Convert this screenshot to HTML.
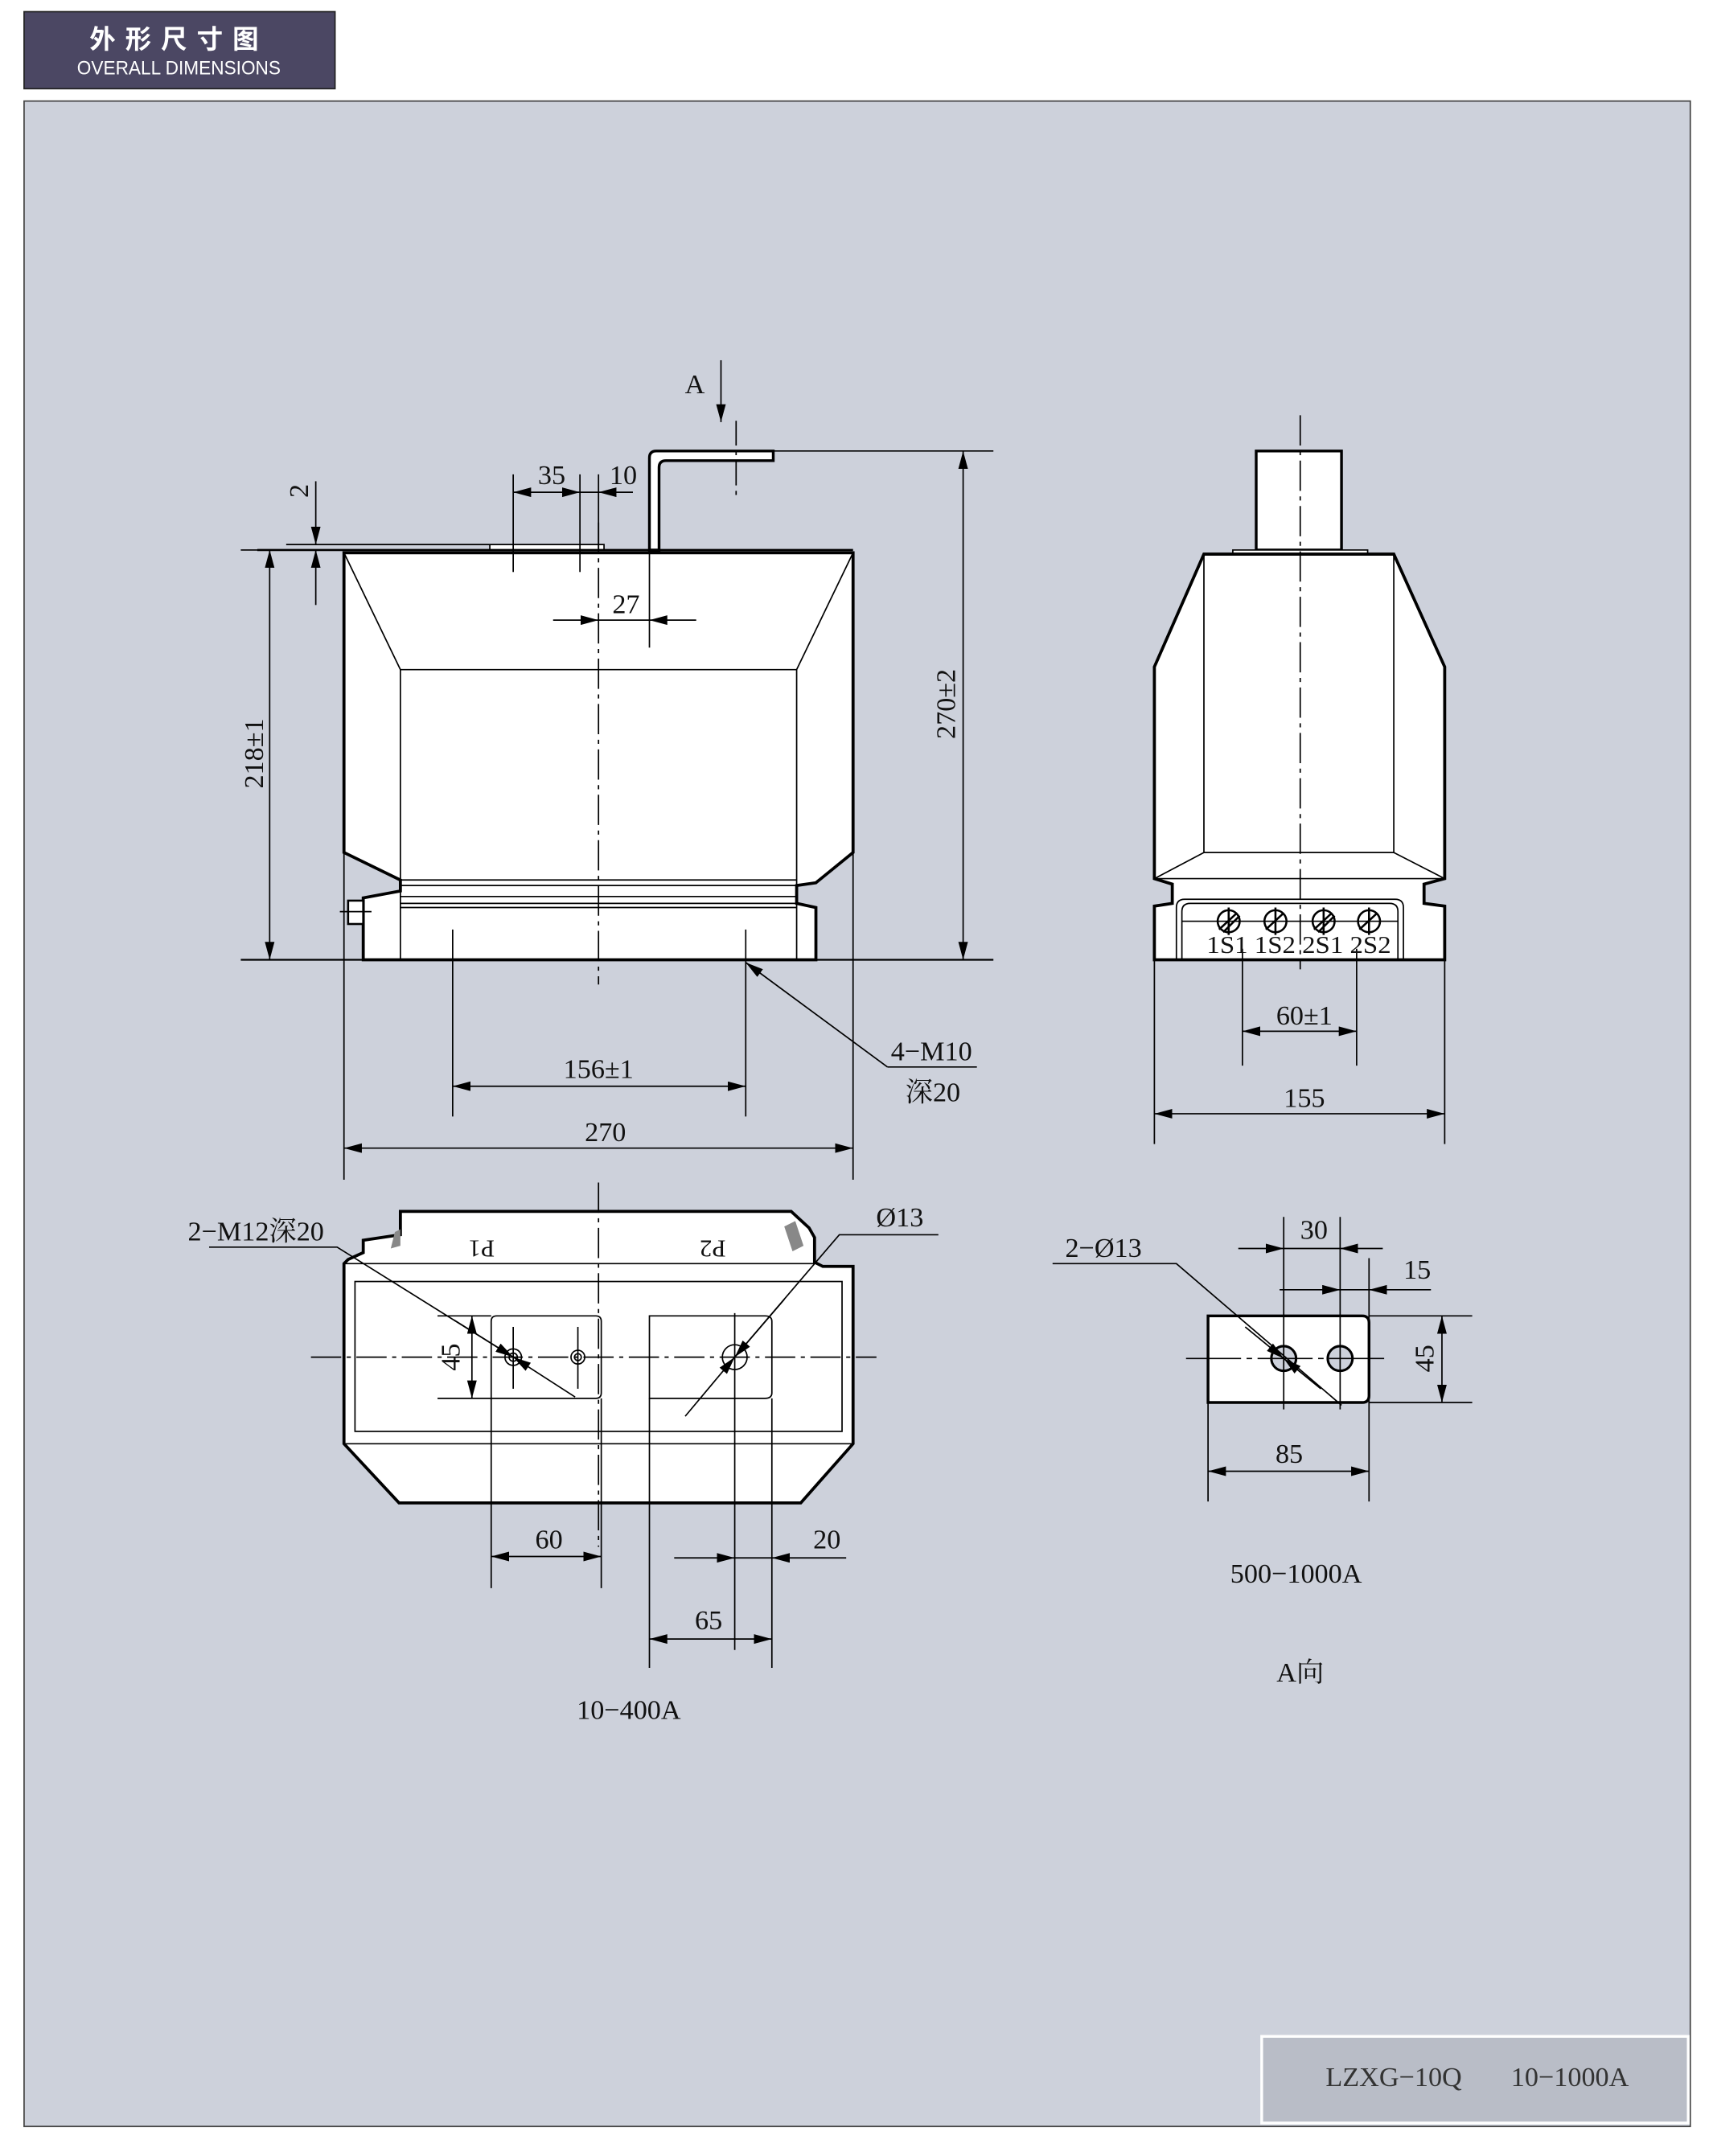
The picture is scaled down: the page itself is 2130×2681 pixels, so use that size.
<!DOCTYPE html>
<html><head><meta charset="utf-8"><style>
html,body{margin:0;padding:0;background:#fff;}
svg{display:block;}
text{font-family:"Liberation Serif","Noto Serif CJK SC",serif;fill:#111;}
</style></head><body>
<svg width="2130" height="2681" viewBox="0 0 1245 1568" preserveAspectRatio="none" xmlns="http://www.w3.org/2000/svg">
<defs>
<marker id="a" markerUnits="userSpaceOnUse" markerWidth="14" markerHeight="8" refX="13" refY="3.5" orient="auto-start-reverse"><path d="M0,0 L13,3.5 L0,7 z" fill="#000"/></marker>
</defs>
<rect x="0" y="0" width="1245" height="1568" fill="#fff"/>
<!-- header -->
<rect x="17.5" y="8.5" width="226" height="56" fill="#4b4763" stroke="#222" stroke-width="1"/>
<text x="130" y="35" text-anchor="middle" font-size="19" font-weight="bold" style="fill:#fff;font-family:'Liberation Sans','Noto Sans CJK SC',sans-serif" letter-spacing="7">外形尺寸图</text>
<text x="130" y="54" text-anchor="middle" font-size="14" style="fill:#fff;font-family:'Liberation Sans',sans-serif" textLength="148" lengthAdjust="spacingAndGlyphs">OVERALL DIMENSIONS</text>
<!-- frame -->
<rect x="17.5" y="73.5" width="1211" height="1473" fill="#cdd1db" stroke="#444" stroke-width="1"/>
<rect x="917" y="1481" width="310" height="63" fill="#b9bdc7" stroke="#fff" stroke-width="2"/>
<text x="1013" y="1517" text-anchor="middle" font-size="20" style="fill:#333">LZXG−10Q</text>
<text x="1141" y="1517" text-anchor="middle" font-size="20" style="fill:#333">10−1000A</text>

<g stroke="#000" fill="none" stroke-width="1">
<!-- FRONT VIEW -->
<path d="M250,402 L620,402 L620,620 L593,642 L579,644 L579,657 L593,660 L593,698 L264,698 L264,653 L291,648 L291,640 L250,620 Z" fill="#fff" stroke-width="2.2"/>
<path d="M250,402 L291,487 L579,487 L620,402 M291,487 L291,698 M579,487 L579,698 M291,640 L579,640 M291,644 L579,644 M291,652 L579,652 M291,657 L579,657 M291,660 L579,660"/>
<rect x="253" y="655" width="11" height="17" fill="#fff" stroke-width="1.5"/>
<line x1="247" y1="663" x2="270" y2="663"/>
<!-- top plate -->
<path d="M208,396 L356,396 M356,396 L439,396 L439,400 L356,400 Z" fill="#fff"/>
<line x1="187" y1="400" x2="620" y2="400" stroke-width="1.5"/>
<!-- busbar -->
<path d="M472,400 L472,333 Q472,328 477,328 L562,328 L562,335 L484,335 Q479,335 479,340 L479,400 Z" fill="#fff" stroke-width="2"/>
<!-- centerlines -->
<line x1="435" y1="380" x2="435" y2="716" stroke-dasharray="22,4,3,4"/>
<line x1="535" y1="306" x2="535" y2="362" stroke-dasharray="18,4,3,4"/>
<!-- A arrow -->
<line x1="524" y1="262" x2="524" y2="307" marker-end="url(#a)"/>
<!-- 270±2 -->
<line x1="562" y1="328" x2="722" y2="328"/>
<line x1="175" y1="698" x2="722" y2="698" stroke-width="1.3"/>
<line x1="700" y1="328" x2="700" y2="698" marker-start="url(#a)" marker-end="url(#a)"/>
<!-- 218±1 -->
<line x1="175" y1="400" x2="250" y2="400"/>
<line x1="196" y1="400" x2="196" y2="698" marker-start="url(#a)" marker-end="url(#a)"/>
<!-- 2 -->
<line x1="229.5" y1="350" x2="229.5" y2="396" marker-end="url(#a)"/>
<line x1="229.5" y1="440" x2="229.5" y2="400" marker-end="url(#a)"/>
<!-- 35 10 -->
<line x1="373" y1="345" x2="373" y2="416"/>
<line x1="421.5" y1="345" x2="421.5" y2="416"/>
<line x1="435" y1="345" x2="435" y2="402"/>
<line x1="373" y1="358" x2="421.5" y2="358" marker-start="url(#a)" marker-end="url(#a)"/>
<line x1="460" y1="358" x2="435" y2="358" marker-end="url(#a)"/>
<line x1="421.5" y1="358" x2="435" y2="358"/>
<!-- 27 -->
<line x1="472" y1="400" x2="472" y2="471"/>
<line x1="402" y1="451" x2="435" y2="451" marker-end="url(#a)"/>
<line x1="506" y1="451" x2="472" y2="451" marker-end="url(#a)"/>
<line x1="435" y1="451" x2="472" y2="451"/>
<!-- bottom dims -->
<line x1="329" y1="676" x2="329" y2="812"/>
<line x1="542" y1="676" x2="542" y2="812"/>
<line x1="250" y1="620" x2="250" y2="858"/>
<line x1="620" y1="620" x2="620" y2="858"/>
<line x1="329" y1="790" x2="542" y2="790" marker-start="url(#a)" marker-end="url(#a)"/>
<line x1="250" y1="835" x2="620" y2="835" marker-start="url(#a)" marker-end="url(#a)"/>
<path d="M645,776 L710,776"/>
<line x1="645" y1="776" x2="542" y2="700" marker-end="url(#a)"/>

<!-- SIDE VIEW -->
<rect x="913" y="328" width="62" height="72" fill="#fff" stroke-width="2"/>
<path d="M896,400 L994,400 L994,403 L896,403 Z" fill="#fff"/>
<path d="M875,403 L1013,403 L1050,485 L1050,639 L1035,643 L1035,657 L1050,659 L1050,698 L839,698 L839,659 L852,657 L852,643 L839,639 L839,485 Z" fill="#fff" stroke-width="2.2"/>
<path d="M875,403 L875,620 L839,639 M1013,403 L1013,620 L1050,639 M875,620 L1013,620 M839,639 L1050,639"/>
<path d="M855,698 L855,660 Q855,654 861,654 L1014,654 Q1020,654 1020,660 L1020,698"/>
<path d="M859,698 L859,663 Q859,657 865,657 L1010,657 Q1016,657 1016,663 L1016,698 M859,670 L1016,670"/>
<g stroke-width="1.5">
<circle cx="893" cy="670" r="8"/><circle cx="927" cy="670" r="8"/><circle cx="962" cy="670" r="8"/><circle cx="995" cy="670" r="8"/>
<path d="M886,676 L899,664 M889,678 L901,666 M920,676 L933,664 M955,676 L968,664 M958,678 L970,666 M988,676 L1001,664"/>
<path d="M893,660 L893,680 M927,660 L927,680 M962,660 L962,680 M995,660 L995,680"/>
</g>
<line x1="945" y1="302" x2="945" y2="705" stroke-dasharray="22,4,3,4"/>
<line x1="903" y1="690" x2="903" y2="775"/>
<line x1="986" y1="690" x2="986" y2="775"/>
<line x1="903" y1="750" x2="986" y2="750" marker-start="url(#a)" marker-end="url(#a)"/>
<line x1="839" y1="698" x2="839" y2="832"/>
<line x1="1050" y1="698" x2="1050" y2="832"/>
<line x1="839" y1="810" x2="1050" y2="810" marker-start="url(#a)" marker-end="url(#a)"/>

<!-- BOTTOM VIEW -->
<path d="M250,919 L253,916 L264,911 L264,902 L291,898 L291,881 L575,881 L588,893 L592,900 L592,918 L598,921 L620,921 L620,1050 L582,1093 L290,1093 L250,1050 Z" fill="#fff" stroke-width="2.2"/>
<path d="M250,919 L592,919 M250,1050 L620,1050"/>
<rect x="258" y="932" width="354" height="109"/>
<path d="M287,896 L291,894 L291,906 L284,908 Z M570,892 L578,888 L584,906 L576,910 Z" fill="#888" stroke="none"/>
<path d="M357,1017 L357,961 Q357,957 361,957 L433,957 Q437,957 437,961 L437,1013 Q437,1017 433,1017 Z M472,1017 L472,957 L556,957 Q561,957 561,961 L561,1013 Q561,1017 556,1017 Z"/>
<circle cx="373" cy="987" r="6"/><circle cx="373" cy="987" r="3"/>
<circle cx="420" cy="987" r="5"/><circle cx="420" cy="987" r="2.5"/>
<circle cx="534" cy="987" r="9"/>
<line x1="373" y1="965" x2="373" y2="1010"/><line x1="420" y1="965" x2="420" y2="1010"/>
<line x1="534" y1="955" x2="534" y2="1200"/>
<line x1="226" y1="987" x2="637" y2="987" stroke-dasharray="22,4,3,4"/>
<line x1="435" y1="860" x2="435" y2="1125" stroke-dasharray="22,4,3,4"/>
<line x1="318" y1="957" x2="357" y2="957"/><line x1="318" y1="1017" x2="357" y2="1017"/>
<line x1="343" y1="957" x2="343" y2="1017" marker-start="url(#a)" marker-end="url(#a)"/>
<path d="M152,907 L245,907 L373,987"/>
<line x1="330" y1="960" x2="373" y2="987" marker-end="url(#a)"/>
<line x1="418" y1="1016" x2="373" y2="987" marker-end="url(#a)"/>
<path d="M682,898 L610,898 L534,987"/>
<line x1="570" y1="945" x2="534" y2="987" marker-end="url(#a)"/>
<line x1="498" y1="1030" x2="534" y2="987" marker-end="url(#a)"/>
<line x1="357" y1="1017" x2="357" y2="1155"/>
<line x1="437" y1="1017" x2="437" y2="1155"/>
<line x1="357" y1="1132" x2="437" y2="1132" marker-start="url(#a)" marker-end="url(#a)"/>
<line x1="561" y1="1017" x2="561" y2="1213"/>
<line x1="472" y1="1017" x2="472" y2="1213"/>
<line x1="490" y1="1133" x2="534" y2="1133" marker-end="url(#a)"/>
<line x1="615" y1="1133" x2="561" y2="1133" marker-end="url(#a)"/>
<line x1="534" y1="1133" x2="561" y2="1133"/>
<line x1="472" y1="1192" x2="561" y2="1192" marker-start="url(#a)" marker-end="url(#a)"/>

<!-- A VIEW -->
<path d="M878,957 L990,957 Q995,957 995,962 L995,1015 Q995,1020 990,1020 L878,1020 Z" fill="#fff" stroke-width="2"/>
<circle cx="933" cy="988" r="9" fill="#cdd1db" stroke-width="1.8"/>
<circle cx="974" cy="988" r="9" fill="#cdd1db" stroke-width="1.8"/>
<line x1="862" y1="988" x2="1010" y2="988" stroke-dasharray="40,4,4,4"/>
<line x1="933" y1="885" x2="933" y2="1025"/>
<line x1="974" y1="885" x2="974" y2="1025"/>
<line x1="995" y1="915" x2="995" y2="1092"/>
<line x1="878" y1="1020" x2="878" y2="1092"/>
<line x1="900" y1="908" x2="933" y2="908" marker-end="url(#a)"/>
<line x1="1005" y1="908" x2="974" y2="908" marker-end="url(#a)"/>
<line x1="933" y1="908" x2="974" y2="908"/>
<line x1="930" y1="938" x2="974" y2="938" marker-end="url(#a)"/>
<line x1="1040" y1="938" x2="995" y2="938" marker-end="url(#a)"/>
<line x1="974" y1="938" x2="995" y2="938"/>
<line x1="995" y1="957" x2="1070" y2="957"/><line x1="995" y1="1020" x2="1070" y2="1020"/>
<line x1="1048" y1="957" x2="1048" y2="1020" marker-start="url(#a)" marker-end="url(#a)"/>
<line x1="878" y1="1070" x2="995" y2="1070" marker-start="url(#a)" marker-end="url(#a)"/>
<path d="M765,919 L855,919 L975,1022"/>
<line x1="905" y1="965" x2="933" y2="988" marker-end="url(#a)"/>
<line x1="960" y1="1010" x2="933" y2="988" marker-end="url(#a)"/>
</g>

<g font-size="20">
<text x="505" y="286" text-anchor="middle">A</text>
<text x="401" y="352" text-anchor="middle">35</text>
<text x="453" y="352" text-anchor="middle">10</text>
<text x="455" y="446" text-anchor="middle">27</text>
<text transform="translate(224,357) rotate(-90)" text-anchor="middle">2</text>
<text transform="translate(191,548) rotate(-90)" text-anchor="middle">218±1</text>
<text transform="translate(694,512) rotate(-90)" text-anchor="middle">270±2</text>
<text x="435" y="784" text-anchor="middle">156±1</text>
<text x="440" y="830" text-anchor="middle">270</text>
<text x="677" y="771" text-anchor="middle">4−M10</text>
<text x="678" y="801" text-anchor="middle">深20</text>
<text x="948" y="745" text-anchor="middle">60±1</text>
<text x="948" y="805" text-anchor="middle">155</text>
<text x="944" y="693" text-anchor="middle" font-size="18" textLength="134" lengthAdjust="spacingAndGlyphs">1S1 1S2 2S1 2S2</text>
<text x="186" y="902" text-anchor="middle">2−M12深20</text>
<text transform="translate(350,902) rotate(180)" text-anchor="middle" font-size="18">P1</text>
<text transform="translate(518,902) rotate(180)" text-anchor="middle" font-size="18">P2</text>
<text x="654" y="892" text-anchor="middle">Ø13</text>
<text transform="translate(334,987) rotate(-90)" text-anchor="middle">45</text>
<text x="399" y="1126" text-anchor="middle">60</text>
<text x="601" y="1126" text-anchor="middle">20</text>
<text x="515" y="1185" text-anchor="middle">65</text>
<text x="457" y="1250" text-anchor="middle">10−400A</text>
<text x="802" y="914" text-anchor="middle">2−Ø13</text>
<text x="955" y="901" text-anchor="middle">30</text>
<text x="1030" y="930" text-anchor="middle">15</text>
<text transform="translate(1042,988) rotate(-90)" text-anchor="middle">45</text>
<text x="937" y="1064" text-anchor="middle">85</text>
<text x="942" y="1151" text-anchor="middle">500−1000A</text>
<text x="945" y="1223" text-anchor="middle">A向</text>
</g>
</svg>
</body></html>
